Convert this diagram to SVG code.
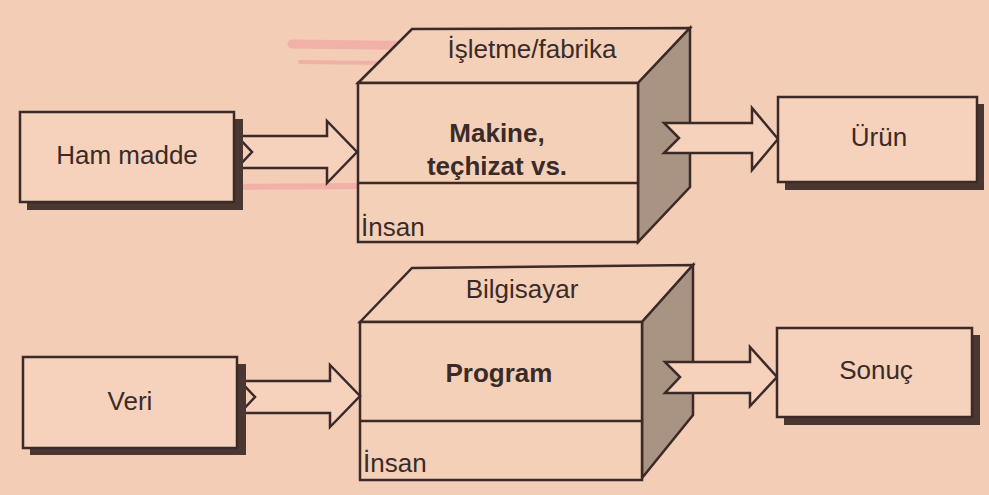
<svg xmlns="http://www.w3.org/2000/svg" width="989" height="495" viewBox="0 0 989 495">
<style>
.ln{stroke:#3b2a27;stroke-width:2.5;fill:#f6d2bc;stroke-linejoin:miter}
.face{stroke:#3b2a27;stroke-width:2.5;fill:#f5d0b9;stroke-linejoin:miter}
.side{stroke:#3b2a27;stroke-width:2.5;fill:#a99382;stroke-linejoin:miter}
.sh{fill:#4b3732}
.t{font-family:"Liberation Sans",Arial,Helvetica,sans-serif;fill:#3a2b28;font-size:26px}
.c{text-anchor:middle}
.b{font-weight:bold}
.hl{stroke:#f0909a;stroke-linecap:round;fill:none;opacity:0.45}
</style>
<rect width="989" height="495" fill="#f3cdb6"/>
<g id="highlighter">
<path class="hl" d="M292 44 L450 46" stroke-width="9"/>
<path class="hl" d="M300 62 L640 66" stroke-width="4"/>
<path class="hl" d="M22 188 L370 186" stroke-width="6"/>
</g>
<g id="isletme">
<polygon class="face" points="358,83 412,29 690,28 638,83"/>
<polygon class="side" points="638,83 690,28 690,187 638,242"/>
<rect class="face" x="358" y="83" width="280" height="159"/>
<line x1="358" y1="183" x2="638" y2="183" stroke="#3b2a27" stroke-width="2.5"/>
<text class="t c" x="532" y="58">İşletme/fabrika</text>
<text class="t c b" x="497" y="142">Makine,</text>
<text class="t c b" x="497" y="175">teçhizat vs.</text>
<text class="t" x="361" y="236">İnsan</text>
</g>
<g id="bilgisayar">
<polygon class="face" points="360,322 412,268 693,265 642,322"/>
<polygon class="side" points="642,322 693,265 693,415 642,478"/>
<rect class="face" x="360" y="322" width="282" height="158"/>
<line x1="360" y1="421" x2="642" y2="421" stroke="#3b2a27" stroke-width="2.5"/>
<text class="t c" x="522" y="298">Bilgisayar</text>
<text class="t c b" x="499" y="382">Program</text>
<text class="t" x="363" y="472">İnsan</text>
</g>
<g id="connectors">
<polygon class="ln" points="237,136 327,136 327,121 357,152 327,183 327,168 237,168 252,152"/>
<polygon class="ln" points="664,123 752,123 752,108 778,139 752,170 752,153 664,153 679,138"/>
<polygon class="ln" points="240,381 330,381 330,365 360,396 330,427 330,413 240,413 255,397"/>
<polygon class="ln" points="665,362 750,362 750,347 777,377 750,406 750,393 665,393 680,377"/>
</g>
<g id="ham-madde">
<rect class="sh" x="27" y="119" width="216" height="91"/>
<rect class="ln" x="20" y="112" width="214" height="90"/>
<text class="t c" x="127" y="164" font-size="27">Ham madde</text>
</g>
<g id="veri">
<rect class="sh" x="30" y="364" width="216" height="91"/>
<rect class="ln" x="23" y="357" width="214" height="91"/>
<text class="t c" x="130" y="410">Veri</text>
</g>
<g id="urun">
<rect class="sh" x="785" y="104" width="199" height="86"/>
<rect class="ln" x="778" y="97" width="199" height="85"/>
<text class="t c" x="879" y="146">Ürün</text>
</g>
<g id="sonuc">
<rect class="sh" x="784" y="335" width="196" height="90"/>
<rect class="ln" x="777" y="328" width="195" height="89"/>
<text class="t c" x="876" y="379">Sonuç</text>
</g>
</svg>
